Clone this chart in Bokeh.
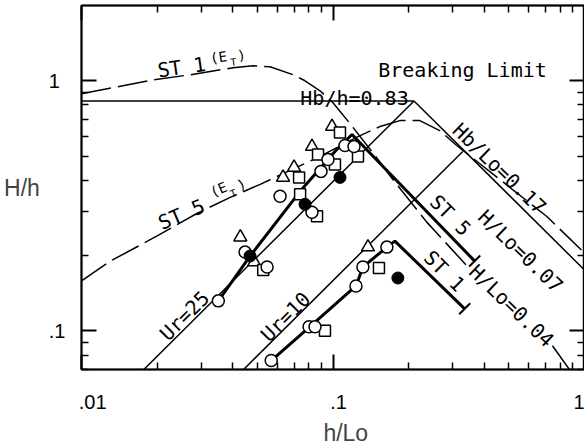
import math
from bokeh.plotting import figure
from bokeh.models import LogAxis, FixedTicker, Label, Range1d
from bokeh.embed import file_html
from bokeh.resources import INLINE

nan = float("nan")
NB = "\u00a0"

# ---------------- data (h/Lo , H/h) ----------------
x_ticks = [0.01, 0.1, 1.0]
x_tick_labels = [".01", ".1", "1"]
x_minor = [0.02, 0.03, 0.04, 0.05, 0.06, 0.07, 0.08, 0.09,
           0.2, 0.3, 0.4, 0.5, 0.6, 0.7, 0.8, 0.9]
y_ticks = [0.1, 1.0]
y_tick_labels = [".1", "1"]
y_minor = [0.07, 0.08, 0.09, 0.2, 0.3, 0.4, 0.5, 0.6, 0.7, 0.8, 0.9]

# breaking limit lines
hbh_x = [0.01, 0.21]
hbh_y = [0.83, 0.83]
hblo_x = [0.21, 1.0]
hblo_y = [0.83, 0.175]
# Ursell number lines
ur25_x = [0.0177, 0.21]
ur25_y = [0.07, 0.83]
ur10_x = [0.0441, 0.328]
ur10_y = [0.07, 0.521]

# calculated curves (E_T)
st1_et_x = [0.01, 0.0139, 0.0193, 0.0271, 0.0401, 0.0481, 0.0562, 0.0694, 0.0774,
            0.0888, 0.100, 0.1168, 0.1428, 0.173, 0.236, 0.35, nan, 0.746, 0.872]
st1_et_y = [0.888, 0.946, 1.009, 1.057, 1.127, 1.148, 1.137, 1.057, 1.0,
            0.912, 0.817, 0.674, 0.521, 0.403, 0.272, 0.1766, nan, 0.0871, 0.0699]
st5_et_x = [0.01, 0.01303, 0.01714, 0.02058, 0.02886, 0.03903, 0.05133, 0.06753, 0.0888,
            0.1257, 0.1537, 0.1845, 0.2214, 0.2658, 0.3105, 0.46, 0.7066, 1.0]
st5_et_y = [0.1582, 0.19, 0.2202, 0.2434, 0.2952, 0.3418, 0.3851, 0.4381, 0.498,
            0.598, 0.6557, 0.6928, 0.6928, 0.6321, 0.5508, 0.4032, 0.2871, 0.2046]

# measured trend lines (thick)
st5_x = [0.035, 0.0468, 0.074, 0.1018, 0.119, 0.366]
st5_y = [0.1317, 0.199, 0.3612, 0.521, 0.6093, 0.19]
st1_x = [0.0568, 0.081, 0.1234, 0.1315, 0.1638, 0.1762, 0.334]
st1_y = [0.076, 0.1038, 0.1511, 0.1799, 0.2161, 0.2284, 0.1224]

# measured points
tri_x = [0.0991, 0.0825, 0.070, 0.0633, 0.0428, 0.0486, 0.1377]
tri_y = [0.6557, 0.5458, 0.450, 0.4107, 0.2368, 0.1884, 0.2161]
sq_x = [0.1066, 0.1257, 0.0872, 0.1018, 0.0733, 0.074, 0.0864, 0.0528, 0.1523, 0.0929]
sq_y = [0.6205, 0.498, 0.5072, 0.4627, 0.4107, 0.3513, 0.2871, 0.175, 0.1782, 0.100]
circ_x = [0.1116, 0.1212, 0.0955, 0.0896, 0.0616, 0.0825, 0.0447, 0.0547, 0.035,
          0.1638, 0.1315, 0.1234, 0.0803, 0.0848, 0.0568]
circ_y = [0.5508, 0.5458, 0.4844, 0.434, 0.345, 0.2979, 0.2064, 0.1799, 0.1317,
          0.2161, 0.1799, 0.1511, 0.1038, 0.1038, 0.076]
dot_x = [0.0468, 0.0774, 0.1066, 0.1811]
dot_y = [0.199, 0.3206, 0.4107, 0.1626]

# ---------------- figure ----------------
X0, X1 = 0.01, 1.0
Y0, Y1 = 0.07, 2.0
SANS = "Liberation Sans"
MONO = "DejaVu Sans Mono"

p = figure(width=584, height=448, x_axis_type="log", y_axis_type="log",
           x_range=Range1d(X0, X1), y_range=Range1d(Y0, Y1),
           output_backend="svg", toolbar_location=None,
           min_border_left=81, min_border_right=0, min_border_top=5, min_border_bottom=77)
p.grid.visible = False
p.outline_line_color = "black"
p.outline_line_width = 1.5
p.background_fill_color = "white"
p.border_fill_color = "white"


def style_axis(ax, ticks, minor, show_labels=False):
    ax.ticker = FixedTicker(ticks=ticks, minor_ticks=minor)
    ax.major_tick_in = 15
    ax.major_tick_out = 0
    ax.minor_tick_in = 7
    ax.minor_tick_out = 0
    ax.major_tick_line_width = 2
    ax.minor_tick_line_width = 1.5
    ax.axis_line_width = 2
    if show_labels:
        ax.major_label_text_font = SANS
        ax.major_label_text_font_size = "20px"
        ax.major_label_text_color = "black"
    else:
        ax.major_label_text_font_size = "1px"
        ax.major_label_text_alpha = 0
        ax.major_label_standoff = 0


# bottom axis: labels start at the tick (left-aligned look via leading no-break spaces)
xa = p.xaxis[0]
style_axis(xa, x_ticks, x_minor, show_labels=True)
x_pads = [4, 2, 0]
xa.major_label_overrides = {t: NB * n + s for t, s, n in zip(x_ticks, x_tick_labels, x_pads)}
xa.major_label_standoff = 21
xa.axis_label = NB * 4 + "h/Lo"
xa.axis_label_text_font = SANS
xa.axis_label_text_font_size = "23px"
xa.axis_label_text_font_style = "normal"
xa.axis_label_standoff = 4

# left axis
ya = p.yaxis[0]
style_axis(ya, y_ticks, y_minor, show_labels=True)
y_pads = [0, 1]
ya.major_label_overrides = {t: s + NB * n for t, s, n in zip(y_ticks, y_tick_labels, y_pads)}
ya.major_label_standoff = 16
ya.axis_label = "H/h"
ya.axis_label_text_font = SANS
ya.axis_label_text_font_size = "23px"
ya.axis_label_text_font_style = "normal"
ya.axis_label_standoff = 6
try:
    ya.axis_label_orientation = "horizontal"
except Exception:
    pass

top = LogAxis()
style_axis(top, x_ticks, x_minor)
p.add_layout(top, "above")
right = LogAxis()
style_axis(right, y_ticks, y_minor)
p.add_layout(right, "right")

# lines
thin = dict(line_color="black", line_width=1.5)
p.line(hbh_x, hbh_y, **thin)
p.line(hblo_x, hblo_y, **thin)
p.line(ur25_x, ur25_y, **thin)
p.line(ur10_x, ur10_y, **thin)
p.line(st1_et_x, st1_et_y, line_color="black", line_width=1.5, line_dash="30 7")
p.line(st5_et_x, st5_et_y, line_color="black", line_width=1.5, line_dash="30 7")
p.line(st5_x, st5_y, line_color="black", line_width=3)
p.line(st1_x, st1_y, line_color="black", line_width=3)


def end_bar(xs, ys, half=0.022):
    xe, ye = xs[-1], ys[-1]
    return [xe * 10 ** (-half), xe * 10 ** half], [ye * 10 ** (-half), ye * 10 ** half]


for xs, ys in [(st5_x, st5_y), (st1_x, st1_y)]:
    bx, by = end_bar(xs, ys)
    p.line(bx, by, line_color="black", line_width=2)

# markers
p.scatter(tri_x, tri_y, marker="triangle", size=13, fill_color="white",
          line_color="black", line_width=1.5)
p.scatter(sq_x, sq_y, marker="square", size=11, fill_color="white",
          line_color="black", line_width=1.5)
p.scatter(circ_x, circ_y, marker="circle", size=12, fill_color="white",
          line_color="black", line_width=1.5)
p.scatter(dot_x, dot_y, marker="circle", size=12, fill_color="black",
          line_color="black", line_width=1)

# ---------------- in-plot text ----------------
FL, FR, FT, FB = 81.0, 584.0, 5.0, 371.0
LX0, LX1 = math.log10(X0), math.log10(X1)
LY0, LY1 = math.log10(Y0), math.log10(Y1)


def dx(px):
    return 10 ** (LX0 + (px - FL) / (FR - FL) * (LX1 - LX0))


def dy(py):
    return 10 ** (LY1 - (py - FT) / (FB - FT) * (LY1 - LY0))


def lab(px, py, text, size, font=MONO, angle=0.0, align="center", baseline="middle"):
    p.add_layout(Label(x=dx(px), y=dy(py), text=text, text_font=font,
                       text_font_size=f"{size}px", text_color="black",
                       text_align=align, text_baseline=baseline,
                       angle=math.radians(angle)))


lab(462, 70, "Breaking Limit", 20, baseline="alphabetic")
lab(354, 98, "Hb/h=0.83", 20, baseline="alphabetic")
lab(181, 67, "ST 1", 20, angle=8)
lab(218, 57, "(E", 14, angle=8)
lab(233, 62, "T", 10, angle=8)
lab(241, 55, ")", 14, angle=8)
lab(181, 215, "ST 5", 20, angle=23)
lab(218, 190, "(E", 14, angle=23)
lab(233, 194, "T", 10, angle=23)
lab(241, 185, ")", 14, angle=23)
lab(184, 317, "Ur=25", 20, angle=45)
lab(285, 318, "Ur=10", 20, angle=45)
lab(499, 169, "Hb/Lo=0.17", 20, angle=-44)
lab(450, 216, "ST 5", 20, angle=-45)
lab(520, 252, "H/Lo=0.07", 20, angle=-44)
lab(444, 272, "ST 1", 20, angle=-45)
lab(511, 307, "H/Lo=0.04", 20, angle=-44)

open("out.html", "w").write(file_html(p, INLINE))
